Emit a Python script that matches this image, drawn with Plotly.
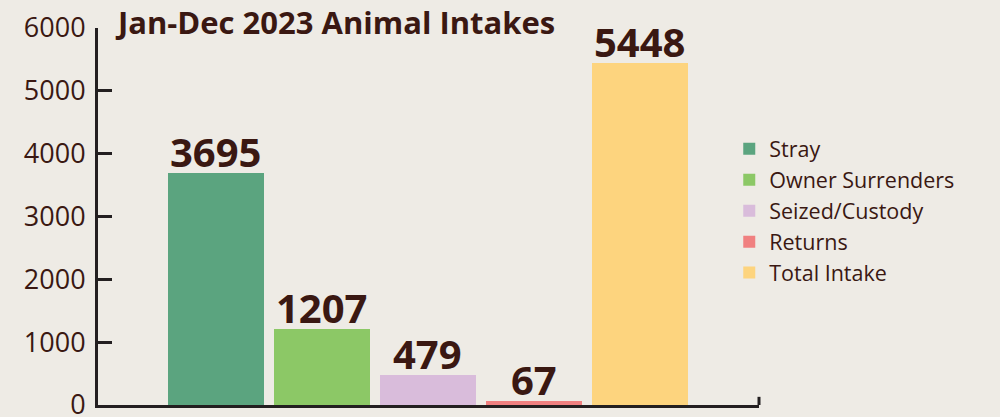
import plotly.graph_objects as go

categories = ["Stray", "Owner Surrenders", "Seized/Custody", "Returns", "Total Intake"]
values = [3695, 1207, 479, 67, 5448]
colors = ["#5ba47f", "#8cc866", "#d9bcdb", "#f08080", "#fdd47e"]
y_ticks = [0, 1000, 2000, 3000, 4000, 5000, 6000]
title_text = "Jan-Dec 2023 Animal Intakes"

BG = "#eeebe5"
TXT = "#3a1812"
AX = "#231f20"

fig = go.Figure()
for i, (c, v, col) in enumerate(zip(categories, values, colors)):
    fig.add_trace(go.Bar(
        x=[i], y=[v], name=c, width=0.905,
        marker=dict(color=col, line=dict(width=0)),
    ))
    fig.add_annotation(
        x=i, y=v, xref="x", yref="y", text=str(v), showarrow=False,
        xanchor="center", yanchor="bottom", yshift=-8,
        font=dict(family="Open Sans", size=40, color=TXT, weight="bold"),
    )

fig.update_layout(
    width=1000, height=417,
    paper_bgcolor=BG, plot_bgcolor=BG,
    margin=dict(l=98, r=241, t=28, b=12, autoexpand=False),
    showlegend=True,
    legend=dict(x=0.955, y=0.515, xanchor="left", yanchor="middle",
                font=dict(family="Open Sans", size=21.5, color=TXT),
                bgcolor="rgba(0,0,0,0)", tracegroupgap=0, itemsizing="constant"),
    bargap=0,
    title=dict(text=title_text, x=0.118, xanchor="left", xref="container",
               y=0.945, yanchor="middle", yref="container",
               font=dict(family="Open Sans", size=31, color=TXT, weight="bold")),
    xaxis=dict(range=[-1.113, 5.123], showticklabels=False, showgrid=False,
               zeroline=False, showline=True, linecolor=AX, linewidth=3,
               ticks="", automargin=False),
    yaxis=dict(range=[0, 6000], tickvals=y_ticks, ticks="inside", ticklen=14,
               tickwidth=3, tickcolor=AX, showgrid=False, zeroline=False,
               showline=True, linecolor=AX, linewidth=3, automargin=False,
               ticklabeloverflow="allow", ticklabelstandoff=4,
               tickfont=dict(family="Open Sans", size=27, color=TXT)),
)
fig.add_shape(type="line", xref="paper", yref="y", x0=1, x1=1, y0=0, y1=130,
              line=dict(color=AX, width=3))

fig.write_html("out.html", config={"displayModeBar": False},
               post_script="document.body.style.margin='0';")
